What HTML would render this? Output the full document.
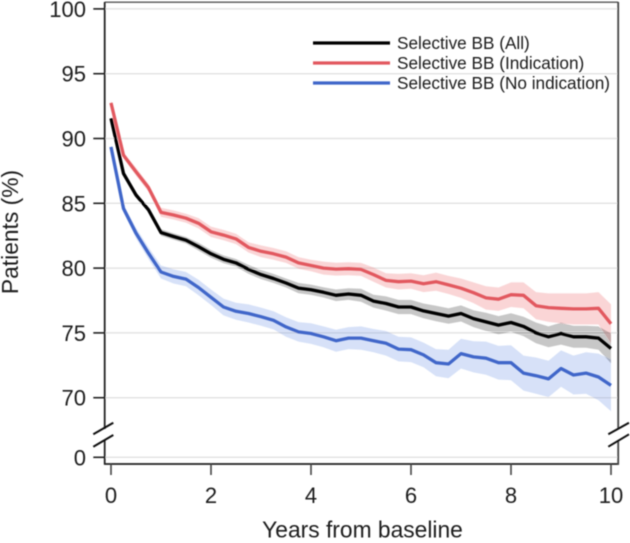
<!DOCTYPE html>
<html>
<head>
<meta charset="utf-8">
<style>
html,body{margin:0;padding:0;background:#fff;}
svg{display:block;}
text{font-family:"Liberation Sans",sans-serif;fill:#1e1e1e;}
</style>
</head>
<body>
<svg id="chart" width="630" height="543" viewBox="0 0 630 543" xmlns="http://www.w3.org/2000/svg">
<defs><filter id="soft" x="-5%" y="-5%" width="110%" height="110%"><feGaussianBlur stdDeviation="0.4"/></filter></defs>
<g id="plot" filter="url(#soft)"></g>
</svg>
<script>
const years = [0,0.25,0.5,0.75,1,1.25,1.5,1.75,2,2.25,2.5,2.75,3,3.25,3.5,3.75,4,4.25,4.5,4.75,5,5.25,5.5,5.75,6,6.25,6.5,6.75,7,7.25,7.5,7.75,8,8.25,8.5,8.75,9,9.25,9.5,9.75,10];
const allValues = [91.55,87.3,85.64,84.5,82.74,82.44,82.15,81.65,81.1,80.68,80.4,79.9,79.5,79.2,78.85,78.46,78.33,78.13,77.9,78,77.9,77.45,77.27,77,77,76.7,76.5,76.3,76.5,76.1,75.85,75.6,75.8,75.5,75,74.7,74.95,74.7,74.7,74.6,73.8];
const indicationValues = [92.75,88.7,87.44,86.2,84.3,84.1,83.85,83.46,82.8,82.55,82.25,81.6,81.3,81.1,80.85,80.4,80.2,80,79.92,79.95,79.9,79.5,79.05,78.95,79,78.8,78.95,78.7,78.45,78.1,77.7,77.6,77.95,77.9,77.1,76.95,76.9,76.85,76.85,76.9,75.7];
const noIndicationValues = [89.35,84.6,82.7,81.15,79.7,79.36,79.15,78.5,77.75,77,76.67,76.5,76.25,75.97,75.46,75.08,74.95,74.7,74.4,74.6,74.6,74.4,74.2,73.75,73.7,73.3,72.7,72.6,73.4,73.15,73.05,72.7,72.7,71.9,71.7,71.45,72.25,71.75,71.9,71.6,70.95];
const allCi = [.1,.15,.2,.2,.25,.25,.25,.3,.3,.3,.3,.35,.35,.35,.35,.4,.4,.4,.45,.45,.5,.5,.55,.55,.55,.57,.6,.6,.62,.65,.7,.7,.72,.75,.8,.8,.85,.85,.85,.9,1.15];
const indicationCi = [.2,.25,.3,.3,.35,.35,.35,.4,.4,.4,.4,.4,.45,.45,.45,.45,.45,.5,.5,.5,.5,.55,.55,.6,.6,.65,.7,.7,.75,.8,.9,.9,.95,1,1.05,1.1,1.15,1.2,1.2,1.25,1.5];
const noIndicationCi = [.2,.3,.4,.45,.5,.55,.55,.6,.6,.65,.65,.7,.7,.7,.75,.75,.8,.8,.85,.85,.9,.9,.95,.95,.95,.95,1.05,1.1,1.15,1.2,1.28,1.3,1.35,1.35,1.4,1.4,1.4,1.5,1.6,1.8,2];
const yTickValues = [0,70,75,80,85,90,95,100];
const xTickValues = [0,2,4,6,8,10];
const legendLabels = ["Selective BB (All)","Selective BB (Indication)","Selective BB (No indication)"];

const NS = "http://www.w3.org/2000/svg";
const plot = document.getElementById("plot");
function xScale(t){ return 111 + t * 50; }
function yScale(v){ return v >= 20 ? 397.7 - (v - 70) * 12.96 : 457.3 - v * 0.85; }
function make(tag, attrs, parent){
  const el = document.createElementNS(NS, tag);
  for (const k in attrs) el.setAttribute(k, attrs[k]);
  (parent || plot).appendChild(el);
  return el;
}
const axisColor = "#222222";

// gridlines
yTickValues.forEach(function(v){
  const g = make("line", {x1:105, x2:617, y1:yScale(v), y2:yScale(v), stroke:"#e3e3e3", "stroke-width":1.5});
  
  
});

// confidence bands
function band(vals, ci, color, opacity, name){
  const up = vals.map(function(v,i){ return xScale(years[i]).toFixed(1) + "," + yScale(v + ci[i]).toFixed(1); });
  const lo = vals.map(function(v,i){ return xScale(years[i]).toFixed(1) + "," + yScale(v - ci[i]).toFixed(1); }).reverse();
  const p = make("polygon", {points: up.concat(lo).join(" "), fill: color, "fill-opacity": opacity});
  
  
}
band(noIndicationValues, noIndicationCi, "#6f93e6", 0.28, "band-no-indication");
band(indicationValues, indicationCi, "#f07c80", 0.32, "band-indication");
band(allValues, allCi, "#000000", 0.22, "band-all");

// series lines
function series(vals, color, name){
  const pts = vals.map(function(v,i){ return xScale(years[i]).toFixed(1) + "," + yScale(v).toFixed(1); }).join(" ");
  const l = make("polyline", {points: pts, fill:"none", stroke: color, "stroke-width":3.3, "stroke-linejoin":"round"});
  
  
}
series(noIndicationValues, "#3f66c9", "line-no-indication");
series(indicationValues, "#e2585e", "line-indication");
series(allValues, "#000000", "line-all");

// frame
function seg(x1,y1,x2,y2,name,w,c){
  const l = make("line", {x1:x1,y1:y1,x2:x2,y2:y2,stroke:c||axisColor,"stroke-width":w||1.8});
  
  
}
seg(104.7,2.2,618.2,2.2,"top-border",1.4,"#555");
seg(104.7,2,104.7,429,"y-axis-upper");
seg(104.7,440,104.7,464.5,"y-axis-lower");
seg(104,464,619,464,"x-axis");
seg(618.2,2,618.2,428,"right-border-upper",1.8,"#444");
seg(618.2,440,618.2,464.5,"right-border-lower",1.8,"#444");
seg(93.3,434.3,113.3,422.7,"axis-break-left-top",2,"#111");
seg(93.3,446.7,113.3,435,"axis-break-left-bottom",2,"#111");
seg(608.3,434.3,629,422.7,"axis-break-right-top",2,"#111");
seg(608.3,446.7,629,434.3,"axis-break-right-bottom",2,"#111");

// ticks and labels
yTickValues.forEach(function(v){
  seg(93.3,yScale(v),104.7,yScale(v),"y-tick-" + v,1.6);
  const t = make("text", {x:86, y:yScale(v)+8, "text-anchor":"end", "font-size":22});
  t.textContent = v;
  
  
});
xTickValues.forEach(function(v){
  seg(xScale(v),464,xScale(v),475,"x-tick-" + v,1.6,"#444");
  const t = make("text", {x:xScale(v), y:503, "text-anchor":"middle", "font-size":22});
  t.textContent = v;
  
  
});

// titles
const xt = make("text", {x:362.5, y:537.5, "text-anchor":"middle", "font-size":22.8});
xt.textContent = "Years from baseline";


const yt = make("text", {x:0, y:0, "text-anchor":"middle", "font-size":22.8, transform:"translate(18,232) rotate(-90)"});
yt.textContent = "Patients (%)";



// legend
const legendColors = ["#000000","#e2585e","#3f66c9"];
const legendY = [43,63,83];
legendLabels.forEach(function(lab,i){
  const l = make("line", {x1:313,x2:390,y1:legendY[i],y2:legendY[i],stroke:legendColors[i],"stroke-width":3.2});
  
  
  const t = make("text", {x:397, y:legendY[i]+6, "font-size":17.2});
  t.textContent = lab;
  
  
});
</script>
</body>
</html>
